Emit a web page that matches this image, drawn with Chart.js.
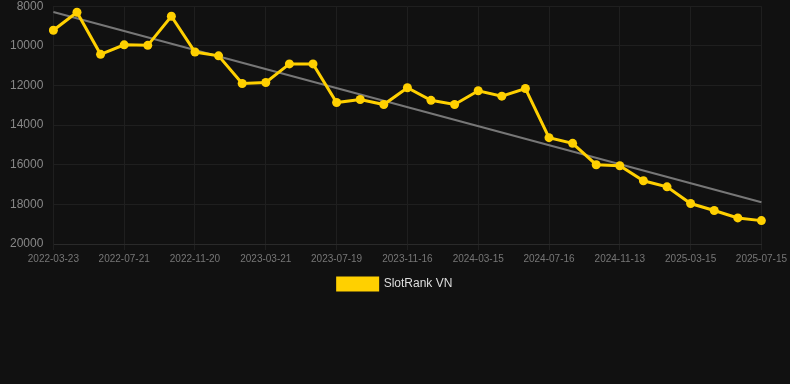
<!DOCTYPE html>
<html>
<head>
<meta charset="utf-8">
<script src="https://cdn.jsdelivr.net/npm/chart.js@4/dist/chart.umd.min.js"></script>
<style>
  html, body { margin: 0; padding: 0; background: #111111; overflow: hidden; }
  #wrap { width: 790px; height: 311px; position: relative; margin-top: -11px; }
</style>
</head>
<body>
<div id="wrap"><canvas id="c"></canvas></div>
<script>
const dates = ["2022-03-23","2022-05-02","2022-06-11","2022-07-21","2022-08-30","2022-10-10",
  "2022-11-20","2022-12-30","2023-02-09","2023-03-21","2023-04-30","2023-06-09",
  "2023-07-19","2023-08-28","2023-10-07","2023-11-16","2023-12-26","2024-02-04",
  "2024-03-15","2024-04-25","2024-06-05","2024-07-16","2024-08-25","2024-10-04",
  "2024-11-13","2024-12-23","2025-02-02","2025-03-15","2025-04-24","2025-06-04","2025-07-15"];
const rankValues = [9215, 8304, 10430, 9949, 9975, 8506, 10313, 10506, 11899, 11848, 10911, 10911,
  12861, 12709, 12962, 12117, 12751, 12962, 12266, 12540, 12152, 14633, 14920, 16000,
  16050, 16810, 17114, 17959, 18312, 18684, 18820];
const trendStart = 8290;
const trendEnd = 17890;
const trendValues = dates.map((d, i) => i === 0 ? trendStart : (i === dates.length - 1 ? trendEnd : null));
const yTicks = [8000, 10000, 12000, 14000, 16000, 18000, 20000];
const seriesName = "SlotRank VN";

new Chart(document.getElementById('c'), {
  type: 'line',
  data: {
    labels: dates,
    datasets: [
      {
        label: seriesName,
        data: rankValues,
        borderColor: '#FFD000',
        backgroundColor: '#FFD000',
        borderWidth: 3,
        pointRadius: 4.5,
        pointBorderWidth: 0,
        pointBackgroundColor: '#FFD000',
        pointBorderColor: '#FFD000',
        tension: 0,
        order: 1
      },
      {
        label: 'trend',
        data: trendValues,
        spanGaps: true,
        borderColor: '#777777',
        borderWidth: 2,
        pointRadius: 0,
        tension: 0,
        order: 2
      }
    ]
  },
  options: {
    responsive: true,
    maintainAspectRatio: false,
    animation: false,
    layout: { padding: { left: 0, right: 0, top: 0, bottom: 0 } },
    plugins: {
      legend: {
        position: 'bottom',
        labels: {
          color: '#dddddd',
          font: { family: 'Arial, "Liberation Sans", sans-serif', size: 12 },
          boxWidth: 40, boxHeight: 12,
          filter: (item) => item.text === seriesName
        }
      },
      tooltip: { enabled: false }
    },
    scales: {
      x: {
        grid: {
          color: (ctx) => (ctx.index % 3 === 0 ? '#1f1f1f' : 'rgba(0,0,0,0)'),
          drawTicks: true, tickLength: 6
        },
        border: { color: '#2a2a2a' },
        ticks: {
          color: '#777777',
          font: { family: 'Arial, "Liberation Sans", sans-serif', size: 10 },
          maxRotation: 0,
          autoSkip: false,
          callback: function(v, i) { return i % 3 === 0 ? dates[i] : ''; }
        }
      },
      y: {
        reverse: true,
        min: 8000,
        max: 20000,
        afterBuildTicks: (axis) => { axis.ticks = yTicks.map(v => ({ value: v })); },
        grid: { color: '#1f1f1f', drawTicks: false },
        border: { color: '#1f1f1f' },
        ticks: {
          color: '#888888',
          padding: 10,
          font: { family: 'Arial, "Liberation Sans", sans-serif', size: 12 },
          callback: (v) => String(v)
        }
      }
    }
  }
});
</script>
</body>
</html>
